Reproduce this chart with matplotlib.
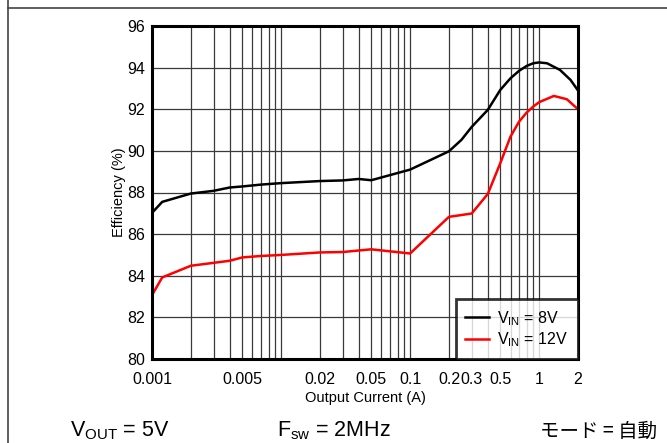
import numpy as np
import matplotlib
matplotlib.use("Agg")
import matplotlib.pyplot as plt
from matplotlib.lines import Line2D
from matplotlib.ticker import FixedLocator, FixedFormatter, LogLocator, NullFormatter

plt.rcParams['font.family'] = ['Liberation Sans', 'DejaVu Sans']
plt.rcParams['mathtext.fontset'] = 'custom'
plt.rcParams['mathtext.rm'] = 'Liberation Sans'
plt.rcParams['mathtext.it'] = 'Liberation Sans'

# efficiency curves
i_8v = [0.001, 0.0012, 0.002, 0.003, 0.004, 0.005, 0.007, 0.01, 0.02, 0.03,
        0.04, 0.05, 0.1, 0.2, 0.25, 0.3, 0.4, 0.5, 0.6, 0.7, 0.8, 0.9, 1.0,
        1.15, 1.45, 1.75, 2.0]
eff_8v = [87.02, 87.55, 87.95, 88.08, 88.24, 88.29, 88.38, 88.45, 88.55, 88.58,
          88.65, 88.59, 89.1, 89.98, 90.53, 91.15, 91.97, 92.93, 93.49, 93.85,
          94.08, 94.21, 94.25, 94.21, 93.89, 93.41, 92.9]

i_12v = [0.001, 0.0012, 0.002, 0.003, 0.004, 0.005, 0.007, 0.01, 0.02, 0.03,
         0.05, 0.1, 0.2, 0.3, 0.4, 0.5, 0.6, 0.7, 0.8, 0.9, 1.0, 1.3, 1.64, 2.0]
eff_12v = [83.07, 83.92, 84.48, 84.62, 84.72, 84.88, 84.95, 85.0, 85.12, 85.14,
           85.27, 85.07, 86.83, 86.99, 87.93, 89.41, 90.69, 91.41, 91.84, 92.13,
           92.34, 92.64, 92.48, 92.0]

x_ticks = [0.001, 0.005, 0.02, 0.05, 0.1, 0.2, 0.3, 0.5, 1, 2]
x_tick_labels = ['0.001', '0.005', '0.02', '0.05', '0.1', '0.2', '0.3', '0.5', '1', '2']
y_ticks = [80, 82, 84, 86, 88, 90, 92, 94, 96]

fig = plt.figure(figsize=(6.67, 4.43), dpi=100)
ax = fig.add_axes([152 / 667, 1 - 359 / 443, (578 - 152) / 667, (359 - 26) / 443])

ax.set_xscale('log')
ax.set_xlim(0.001, 2)
ax.set_ylim(80, 96)

ax.plot(i_8v, eff_8v, color='black', lw=1.8, label=r'V$_{\mathrm{IN}}$ = 8V', zorder=3)
ax.plot(i_12v, eff_12v, color='#ff0000', lw=1.8, label=r'V$_{\mathrm{IN}}$ = 12V', zorder=3)

ax.xaxis.set_major_locator(FixedLocator(x_ticks))
ax.xaxis.set_major_formatter(FixedFormatter(x_tick_labels))
ax.xaxis.set_minor_locator(LogLocator(base=10, subs=np.arange(1, 10), numticks=20))
ax.xaxis.set_minor_formatter(NullFormatter())
ax.set_yticks(y_ticks)

ax.grid(True, which='both', axis='x', color='#3a3a3a', lw=0.9)
ax.grid(True, which='major', axis='y', color='#3a3a3a', lw=0.9)
ax.set_axisbelow(True)

ax.tick_params(which='both', length=0, labelsize=11.5)
ax.tick_params(axis='y', pad=5)
ax.tick_params(axis='x', pad=9)
for s in ax.spines.values():
    s.set_linewidth(2.2)
    s.set_zorder(5)

ax.set_xlabel('Output Current (A)', fontsize=10.5, labelpad=3)
ax.set_ylabel('Efficiency (%)', fontsize=10.5, labelpad=1)

leg = ax.legend(loc='lower right', fontsize=11.5, frameon=True, fancybox=False,
                edgecolor='black', borderaxespad=0, handlelength=1.5,
                borderpad=0.6, labelspacing=0.2, handletextpad=0.5)
leg.get_frame().set_linewidth(2.0)
leg.set_zorder(6)

# table-style border lines around the figure
fig.add_artist(Line2D([8 / 667, 8 / 667], [0, 1], transform=fig.transFigure,
                      color='#444444', lw=1.2))
fig.add_artist(Line2D([8 / 667, 1], [1 - 8 / 443, 1 - 8 / 443], transform=fig.transFigure,
                      color='#444444', lw=1.2))

# condition labels under the chart
fig.text(70 / 667, 1 - 431 / 443, r'V$_{\mathrm{OUT}}$ = 5V', fontsize=15.5, va='center')
fig.text(277 / 667, 1 - 431 / 443, r'F$_{\mathrm{sw}}$ = 2MHz', fontsize=15.5, va='center')
fig.text(540 / 667, 1 - 431 / 443, 'モード = 自動', fontsize=14, va='center',
         family=['Noto Sans CJK JP', 'DejaVu Sans'])

fig.savefig('out.png', dpi=100)
